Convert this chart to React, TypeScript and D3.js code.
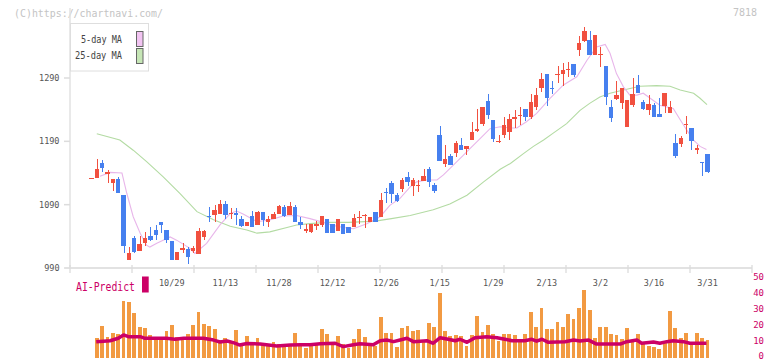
import { useEffect, useRef } from 'react';
import * as d3 from 'd3';

// daily candles, index 0 = first trading day shown
const openP = [
  1132, 1132, 1156, 1140, 1125, 1131, 1105, 1003, 1037, 1017, 1029, 1041, 1050, 1063, 1050, 1032,
  1003, 1020, 1020, 1017, 1012, 1039, 1072, 1074, 1076, 1091, 1076, 1077, 1067, 1056, 1072, 1058,
  1078, 1063, 1068, 1075, 1087, 1074, 1087, 1063, 1049, 1047, 1058, 1058, 1067, 1059, 1049, 1059,
  1055, 1054, 1070, 1073, 1062, 1078, 1071, 1110, 1125, 1105, 1115, 1133, 1119, 1120, 1127, 1146,
  1121, 1200, 1155, 1167, 1172, 1184, 1178, 1192, 1208, 1217, 1253, 1224, 1190, 1200, 1204, 1225,
  1231, 1241, 1229, 1245, 1274, 1296, 1275, 1296, 1297, 1303, 1312, 1334, 1349, 1350, 1326, 1327,
  1309, 1244, 1257, 1251, 1213, 1247, 1279, 1252, 1239, 1247, 1233, 1246, 1235, 1188, 1186, 1217,
  1211, 1178, 1157, 1170,
];
const highP = [
  1132, 1162, 1161, 1145, 1131, 1133, 1105, 1023, 1040, 1041, 1047, 1054, 1058, 1063, 1050, 1032,
  1016, 1030, 1023, 1024, 1053, 1050, 1087, 1089, 1098, 1096, 1084, 1084, 1072, 1062, 1080, 1080,
  1078, 1072, 1078, 1090, 1089, 1094, 1090, 1070, 1059, 1059, 1065, 1072, 1067, 1059, 1067, 1059,
  1055, 1076, 1080, 1076, 1071, 1078, 1108, 1116, 1128, 1109, 1132, 1142, 1132, 1129, 1146, 1150,
  1124, 1215, 1184, 1170, 1191, 1195, 1183, 1221, 1241, 1245, 1265, 1224, 1200, 1229, 1233, 1239,
  1244, 1241, 1264, 1275, 1298, 1296, 1286, 1309, 1313, 1315, 1312, 1356, 1371, 1365, 1358, 1339,
  1309, 1255, 1285, 1274, 1256, 1290, 1295, 1255, 1263, 1251, 1258, 1266, 1254, 1202, 1198, 1230,
  1211, 1184, 1157, 1170,
];
const lowP = [
  1132, 1132, 1142, 1125, 1112, 1108, 1014, 1003, 1013, 1017, 1024, 1033, 1034, 1046, 1029, 1003,
  1003, 1013, 996, 1013, 1012, 1035, 1063, 1063, 1076, 1067, 1067, 1058, 1054, 1056, 1054, 1058,
  1057, 1054, 1068, 1075, 1070, 1074, 1062, 1051, 1045, 1045, 1050, 1055, 1046, 1046, 1049, 1044,
  1046, 1054, 1060, 1053, 1062, 1063, 1071, 1093, 1093, 1094, 1110, 1119, 1104, 1110, 1127, 1118,
  1109, 1159, 1150, 1153, 1166, 1176, 1168, 1192, 1204, 1214, 1226, 1189, 1187, 1195, 1192, 1211,
  1216, 1222, 1225, 1240, 1268, 1246, 1265, 1282, 1278, 1292, 1292, 1324, 1347, 1326, 1326, 1308,
  1248, 1221, 1255, 1241, 1213, 1245, 1267, 1240, 1232, 1229, 1229, 1235, 1235, 1163, 1181, 1202,
  1176, 1170, 1136, 1140,
];
const closeP = [
  1132, 1146, 1148, 1141, 1131, 1108, 1024, 1013, 1015, 1028, 1037, 1035, 1042, 1058, 1035, 1003,
  1016, 1021, 1007, 1022, 1049, 1049, 1071, 1082, 1091, 1074, 1077, 1073, 1056, 1062, 1054, 1078,
  1066, 1068, 1076, 1088, 1072, 1088, 1062, 1058, 1052, 1059, 1059, 1072, 1046, 1046, 1067, 1044,
  1046, 1069, 1071, 1074, 1071, 1063, 1097, 1109, 1107, 1096, 1129, 1126, 1129, 1121, 1135, 1126,
  1112, 1159, 1162, 1153, 1188, 1176, 1183, 1204, 1209, 1244, 1232, 1194, 1191, 1216, 1226, 1229,
  1232, 1229, 1252, 1263, 1288, 1259, 1274, 1297, 1303, 1304, 1294, 1346, 1364, 1326, 1358, 1328,
  1260, 1227, 1263, 1274, 1256, 1265, 1267, 1241, 1249, 1229, 1229, 1266, 1244, 1167, 1195, 1218,
  1191, 1179, 1156, 1142,
];
const volume = [
  0, 12.2, 19.7, 12.8, 15.3, 14.7, 35.3, 34.7, 27.8, 19.1, 18.4, 14.1, 12.8, 12.8, 16.6, 20.3,
  12.8, 11.6, 14.7, 20.3, 28.4, 20.9, 19.7, 17.8, 10.9, 12.2, 9.7, 17.2, 8.4, 13.4, 8.4, 12.2,
  7.8, 7.2, 9.7, 8.4, 8.4, 8.4, 15.3, 7.5, 5.9, 9.1, 9.1, 17.8, 14.7, 7.8, 13.4, 8.4,
  5.9, 11.6, 17.8, 12.8, 9.1, 7.2, 25.3, 15.3, 15.3, 6.6, 18.4, 19.7, 16.6, 17.2, 10, 21.6,
  19.1, 40.3, 16.6, 13.4, 14.1, 13.4, 7.2, 14.1, 25.9, 15.9, 20.3, 14.7, 10.3, 14.7, 14.7, 14.1,
  10, 14.7, 28.4, 19.1, 30.9, 17.8, 17.8, 22.2, 19.1, 27.2, 24.1, 30.9, 42.2, 29.7, 12.2, 19.1,
  19.1, 14.7, 14.1, 11.6, 18.4, 10.3, 14.7, 8.4, 7.2, 6.6, 5.3, 9.7, 29.1, 18.4, 12.2, 15.3,
  9.7, 15.3, 12.2, 10.9,
];
// moving averages and prediction line as [day index, value]
const ma5 = [
  [1.6, 1135], [3.5, 1141], [5.7, 1140], [6.6, 1108], [7.8, 1071], [9.1, 1045], [10.3, 1026],
  [10.9, 1023], [12.2, 1029], [14.7, 1039], [15.9, 1034], [18.4, 1021], [19.3, 1013], [21.5, 1029],
  [24, 1058], [25.9, 1076], [27.1, 1080], [28.4, 1075], [30.9, 1063], [33.3, 1066], [35.8, 1072],
  [38.3, 1073], [40.8, 1068], [43.3, 1062], [45.2, 1057], [47, 1054], [48.9, 1052], [51.4, 1060],
  [53.9, 1071], [55.7, 1089], [57.6, 1100], [59.5, 1118], [60.7, 1126], [62.6, 1129], [64.5, 1129],
  [65.7, 1137], [67.6, 1153], [69.4, 1168], [70.7, 1179], [72.5, 1194], [74.4, 1210], [76.3, 1213],
  [78.1, 1211], [79.4, 1211], [81.2, 1221], [83.1, 1234], [85.6, 1258], [88.1, 1279], [90.6, 1292],
  [92.5, 1318], [94.3, 1339], [95.9, 1343], [96.8, 1329], [98, 1297], [99.3, 1276], [100.5, 1263],
  [101.8, 1263], [103, 1266], [104.3, 1258], [106.1, 1247], [108.6, 1242], [109.9, 1224],
  [111.1, 1208], [112.4, 1192], [113.6, 1182], [114.8, 1177],
];
const ma25 = [
  [1, 1202], [5.3, 1192], [7.8, 1176], [10.3, 1158], [13.4, 1134], [16.5, 1108], [19.7, 1079],
  [22.8, 1066], [25.9, 1056], [29, 1050], [30.9, 1045], [33.3, 1047], [36.5, 1054], [38.3, 1058],
  [40.8, 1060], [44, 1062], [48, 1062], [53, 1064], [56, 1068], [59.5, 1073], [63.8, 1082],
  [66.9, 1091], [70.1, 1105], [73.2, 1126], [76.3, 1146], [78.2, 1155], [80.7, 1171], [82.5, 1182],
  [84.4, 1192], [86.2, 1203], [88.7, 1218], [91.2, 1239], [93, 1250], [94.9, 1260], [96.8, 1266],
  [99.3, 1271], [102.4, 1277], [105.5, 1278], [108, 1277], [109.9, 1271], [112.4, 1266],
  [113.6, 1258], [114.9, 1248],
];
const aiPredict = [
  [0.9, 9.9], [3.5, 10.5], [5, 12], [6, 14.1], [6.9, 13], [9.1, 13], [10, 12], [14, 12],
  [15.6, 11.4], [17.2, 12], [20.9, 12], [22.8, 10.9], [24, 9.7], [25.3, 10.3], [26.5, 9.3],
  [27.7, 7.8], [29, 8.8], [31.5, 8.4], [34.6, 7.2], [37.1, 7.8], [39, 8], [40.8, 8], [42.7, 8.6],
  [45.5, 8.9], [47, 6.8], [48.9, 8], [50.1, 8.6], [52.6, 8], [53.9, 10.5], [55.1, 10.9],
  [56.4, 9.9], [57.6, 10.9], [58.9, 12], [60.1, 9.9], [62.6, 10.5], [63.8, 8.9], [65.1, 12.4],
  [66.6, 11.4], [67.9, 10.5], [68.8, 11.4], [70.1, 9.5], [71.6, 12.4], [73.8, 13], [75.7, 12.4],
  [77.2, 11.4], [78.5, 10.5], [80.9, 10.5], [82.2, 11.4], [83.1, 10.2], [84.1, 11.4], [85.3, 9.5],
  [88.4, 9.9], [90, 10.9], [91.2, 10.3], [92.8, 10.9], [94.3, 8.4], [96.2, 8.4], [98.7, 8.4],
  [99.9, 9.9], [101.8, 10.9], [102.7, 8.9], [104.9, 9.7], [106.1, 8.9], [107.4, 9.9],
  [108.6, 10.5], [110.5, 9.9], [111.7, 8.9], [114.8, 8.9],
];
const priceTicks = [990, 1090, 1190, 1290];
const volTicks = [0, 10, 20, 30, 40, 50];
const dateLabels = ['10/29', '11/13', '11/28', '12/12', '12/26', '1/15', '1/29', '2/13', '3/2', '3/16', '3/31'];
const dateIdx = [15, 25, 35, 45, 55, 65, 75, 85, 95, 105, 115];

const RED = '#f1503f';
const BLUE = '#4680ef';
const MONO = '"DejaVu Sans Mono", monospace';

function App() {
  const svgRef = useRef<SVGSVGElement>(null);

  useEffect(() => {
    document.body.style.margin = '0';
    const svg = d3.select(svgRef.current);
    svg.selectAll('*').remove();

    const left = 70;
    const right = 752;
    const axisY = 268;

    const x = d3.scaleLinear().domain([-4, 123.3]).range([left, right]);
    const y = d3.scaleLinear().domain([990, 1290]).range([axisY, 78]);
    const yv = d3.scaleLinear().domain([0, 50]).range([357.5, 277.5]);

    // header texts
    svg.append('text').attr('x', 14).attr('y', 17)
      .attr('textLength', 149).attr('lengthAdjust', 'spacingAndGlyphs')
      .style('font-family', MONO).style('font-size', '11px').style('fill', '#c4c4c4')
      .text('(C)https://chartnavi.com/');
    svg.append('text').attr('x', 757).attr('y', 16).attr('text-anchor', 'end')
      .style('font-family', MONO).style('font-size', '10px').style('fill', '#c4c4c4')
      .text('7818');

    // y axis
    svg.append('line').attr('x1', left).attr('x2', left).attr('y1', 8).attr('y2', axisY)
      .attr('stroke', '#e2e2e2').attr('stroke-width', 1.5);
    const yg = svg.append('g');
    priceTicks.forEach((t) => {
      yg.append('line').attr('x1', 64).attr('x2', left).attr('y1', y(t)).attr('y2', y(t))
        .attr('stroke', '#dcdcdc').attr('stroke-width', 1.5);
      yg.append('text').attr('x', 59.5).attr('y', y(t)).attr('dy', '0.35em')
        .attr('text-anchor', 'end')
        .style('font-family', MONO).style('font-size', '8.5px').style('fill', '#555')
        .text(t);
    });

    // x axis
    svg.append('line').attr('x1', 65).attr('x2', right).attr('y1', axisY).attr('y2', axisY)
      .attr('stroke', '#e2e2e2').attr('stroke-width', 2);
    const tickStep = (right - left) / 11;
    d3.range(12).forEach((k) => {
      svg.append('line').attr('x1', left + k * tickStep).attr('x2', left + k * tickStep)
        .attr('y1', 265).attr('y2', 273).attr('stroke', '#dcdcdc').attr('stroke-width', 1.3);
    });
    dateLabels.forEach((lab, k) => {
      svg.append('text').attr('x', x(dateIdx[k])).attr('y', 285.5).attr('text-anchor', 'middle')
        .style('font-family', MONO).style('font-size', '8.5px').style('fill', '#555')
        .text(lab);
    });

    // moving averages
    const maLine = d3.line<number[]>().x((d) => x(d[0])).y((d) => y(d[1]));
    svg.append('path').attr('d', maLine(ma25)).attr('fill', 'none')
      .attr('stroke', '#b3dba3').attr('stroke-width', 1.1);
    svg.append('path').attr('d', maLine(ma5)).attr('fill', 'none')
      .attr('stroke', '#e8b6ea').attr('stroke-width', 1.1);

    // candles
    const bw = 4.4;
    const cg = svg.append('g').attr('shape-rendering', 'crispEdges');
    closeP.forEach((c, i) => {
      const o = openP[i];
      const col = c >= o ? RED : BLUE;
      const cx = Math.round(x(i)) + 0.5;
      if (highP[i] > lowP[i]) {
        cg.append('line').attr('x1', cx).attr('x2', cx).attr('y1', y(highP[i])).attr('y2', y(lowP[i]))
          .attr('stroke', col).attr('stroke-width', 1.2);
      }
      const top = y(Math.max(o, c));
      const h = Math.max(1.2, y(Math.min(o, c)) - top);
      cg.append('rect').attr('x', x(i) - bw / 2).attr('y', top).attr('width', bw).attr('height', h)
        .attr('fill', col);
    });

    // legend
    svg.append('rect').attr('x', 70.5).attr('y', 23.5).attr('width', 78).attr('height', 47.5)
      .attr('fill', '#fff').attr('stroke', '#dedede');
    const legend = [
      { label: '5-day MA', color: '#f2c4f2', ty: 43, sy: 31, w: 41 },
      { label: '25-day MA', color: '#c6e6b6', ty: 58.5, sy: 48, w: 47 },
    ];
    legend.forEach((l) => {
      svg.append('text').attr('x', 122 - l.w).attr('y', l.ty)
        .attr('textLength', l.w).attr('lengthAdjust', 'spacingAndGlyphs')
        .style('font-family', MONO).style('font-size', '10px').style('fill', '#444')
        .text(l.label);
      svg.append('rect').attr('x', 136.5).attr('y', l.sy + 0.5).attr('width', 6.5).attr('height', 15)
        .attr('fill', l.color).attr('stroke', '#666').attr('stroke-width', 1);
    });

    // volume panel
    const vg = svg.append('g').attr('shape-rendering', 'crispEdges');
    volume.forEach((v, i) => {
      if (!v) return;
      vg.append('rect').attr('x', x(i) - 1.9).attr('y', yv(v)).attr('width', 3.8)
        .attr('height', yv(0) - yv(v)).attr('fill', '#f29a42');
    });
    const aiLine = d3.line<number[]>().x((d) => x(d[0])).y((d) => yv(d[1]));
    svg.append('path').attr('d', aiLine(aiPredict)).attr('fill', 'none')
      .attr('stroke', '#cc0066').attr('stroke-width', 3.5).attr('stroke-linejoin', 'round');

    volTicks.forEach((t) => {
      svg.append('text').attr('x', 764).attr('y', Math.min(yv(t), 356)).attr('dy', '0.33em')
        .attr('text-anchor', 'end')
        .style('font-family', MONO).style('font-size', '9px').style('fill', '#cc0066')
        .text(t);
    });

    svg.append('text').attr('x', 76).attr('y', 290.5)
      .attr('textLength', 59).attr('lengthAdjust', 'spacingAndGlyphs')
      .style('font-family', MONO).style('font-size', '12px').style('fill', '#cc0066')
      .text('AI-Predict');
    svg.append('rect').attr('x', 142).attr('y', 276.5).attr('width', 6.7).attr('height', 16)
      .attr('fill', '#cc0066');
  }, []);

  return <svg ref={svgRef} width={772} height={361} style={{ display: 'block', background: '#fff' }}></svg>;
}

export default App;
